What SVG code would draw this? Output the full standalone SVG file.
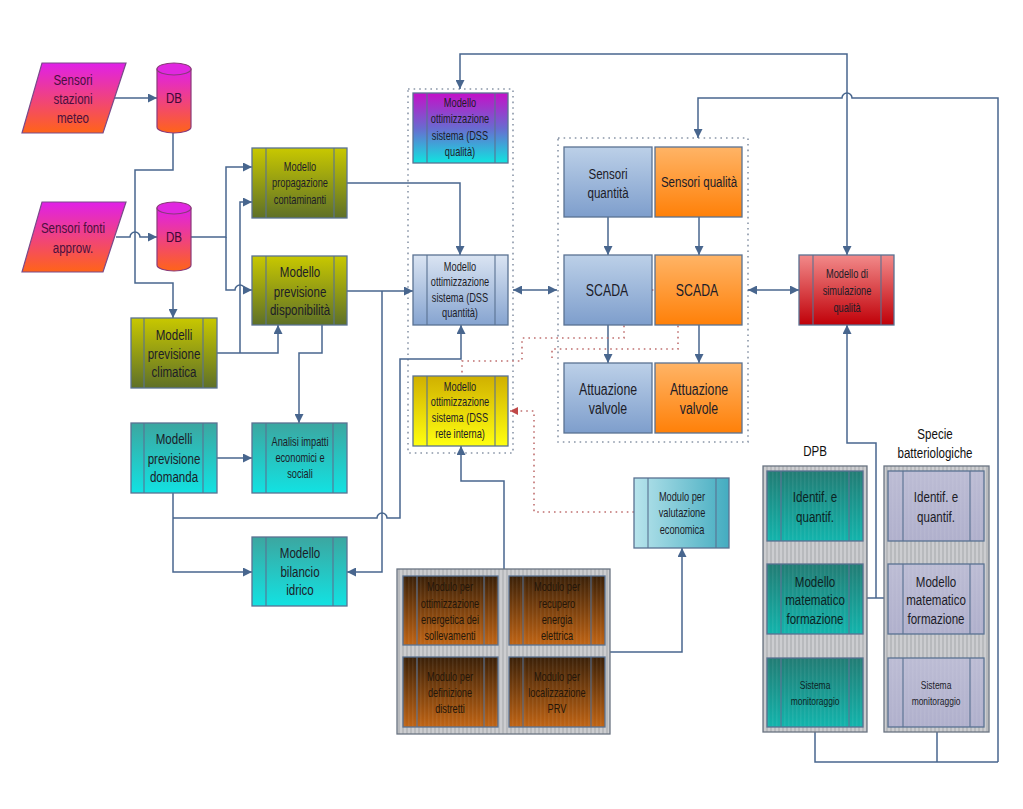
<svg xmlns="http://www.w3.org/2000/svg" width="1023" height="809" viewBox="0 0 1023 809">
<defs>
<style>
text{font-family:"Liberation Sans",Arial,sans-serif;text-anchor:middle;fill:#1c1c28;transform-box:fill-box;transform-origin:center;transform:scaleX(0.77)}
.f15{font-size:15px}.f16{font-size:16px}.f12{font-size:12px}.f11{font-size:11px}
.bx{stroke:#5a7292;stroke-width:1.3}
.il{stroke:#5a7292;stroke-width:1.1;fill:none}
.st{fill:url(#vs);stroke:none}
.c{fill:none;stroke:#48668e;stroke-width:1.5}
.ca{fill:none;stroke:#48668e;stroke-width:1.5;marker-end:url(#a)}
.cb{fill:none;stroke:#48668e;stroke-width:1.5;marker-start:url(#a);marker-end:url(#a)}
.dc{fill:none;stroke:#8a96a8;stroke-width:1.6;stroke-dasharray:1.6 4}
.dr{fill:none;stroke:#c07070;stroke-width:1.6;stroke-dasharray:1.6 4}
.dra{fill:none;stroke:#c07070;stroke-width:1.6;stroke-dasharray:1.6 4;marker-end:url(#r)}
.grp{fill:url(#stripe);stroke:#6a7482;stroke-width:1.3}
</style>
<marker id="a" viewBox="0 0 10 10" refX="10" refY="5" markerWidth="9" markerHeight="9" markerUnits="userSpaceOnUse" orient="auto-start-reverse"><path d="M0,0L10,5L0,10z" fill="#48668e"/></marker>
<marker id="r" viewBox="0 0 10 10" refX="10" refY="5" markerWidth="8" markerHeight="8" markerUnits="userSpaceOnUse" orient="auto-start-reverse"><path d="M0,0L10,5L0,10z" fill="#c04848"/></marker>
<linearGradient id="gMag" x1="0" y1="0" x2="0" y2="1"><stop offset="0" stop-color="#e020e8"/><stop offset="1" stop-color="#ff6418"/></linearGradient>
<linearGradient id="gOl" x1="0" y1="0" x2="0" y2="1"><stop offset="0" stop-color="#c8c800"/><stop offset="1" stop-color="#5e7028"/></linearGradient>
<linearGradient id="gTe" x1="0" y1="0" x2="0" y2="1"><stop offset="0" stop-color="#3ca6a0"/><stop offset="1" stop-color="#12e2e2"/></linearGradient>
<linearGradient id="gQl" x1="0" y1="0" x2="0" y2="1"><stop offset="0" stop-color="#c410c8"/><stop offset="0.5" stop-color="#6a6ad0"/><stop offset="1" stop-color="#10e4e0"/></linearGradient>
<linearGradient id="gBl" x1="0" y1="0" x2="0" y2="1"><stop offset="0" stop-color="#dae4f2"/><stop offset="1" stop-color="#86a4d0"/></linearGradient>
<linearGradient id="gBl2" x1="0" y1="0" x2="0" y2="1"><stop offset="0" stop-color="#bcd0e8"/><stop offset="1" stop-color="#7e9ecc"/></linearGradient>
<linearGradient id="gYe" x1="0" y1="0" x2="0" y2="1"><stop offset="0" stop-color="#d0b000"/><stop offset="1" stop-color="#ffff10"/></linearGradient>
<linearGradient id="gOr" x1="0" y1="0" x2="0" y2="1"><stop offset="0" stop-color="#ffb466"/><stop offset="1" stop-color="#ff8008"/></linearGradient>
<linearGradient id="gRd" x1="0" y1="0" x2="0" y2="1"><stop offset="0" stop-color="#f28a8a"/><stop offset="1" stop-color="#c00008"/></linearGradient>
<linearGradient id="gVe" x1="0" y1="0" x2="1" y2="0"><stop offset="0" stop-color="#b8e4ec"/><stop offset="1" stop-color="#44acc0"/></linearGradient>
<linearGradient id="gBr" x1="0" y1="0" x2="0" y2="1"><stop offset="0" stop-color="#3a2008"/><stop offset="1" stop-color="#c06414"/></linearGradient>
<linearGradient id="gDp" x1="0" y1="0" x2="0" y2="1"><stop offset="0" stop-color="#227c74"/><stop offset="1" stop-color="#12b4ac"/></linearGradient>
<linearGradient id="gSp" x1="0" y1="0" x2="0" y2="1"><stop offset="0" stop-color="#bcbcd4"/><stop offset="1" stop-color="#b0b0cc"/></linearGradient>
<pattern id="stripe" width="4" height="4" patternUnits="userSpaceOnUse"><rect width="4" height="4" fill="#b8babd"/><rect width="2" height="4" fill="#cccdd0"/></pattern>
<pattern id="vs" width="4" height="4" patternUnits="userSpaceOnUse"><rect width="1.5" height="4" fill="#ffffff" fill-opacity="0.06"/></pattern>
</defs>
<rect width="1023" height="809" fill="#ffffff"/>

<g id="containers">
<rect class="dc" x="408" y="89" width="105" height="364"/>
<rect class="dc" x="558" y="138" width="190" height="304"/>
</g>

<g id="connectors">
<path class="ca" d="M113,98H157"/>
<path class="ca" d="M116,237H130a5,5 0 0 1 10,0H157"/>
<path class="ca" d="M173,133V170H135V283H173V318"/>
<path class="ca" d="M191,237H226V167H252"/>
<path class="ca" d="M226,237V290H235a5,5 0 0 1 10,0H252"/>
<path class="ca" d="M217,353H278V325"/>
<path class="ca" d="M240,353V202H252"/>
<path class="ca" d="M322,325V353H299V423"/>
<path class="ca" d="M347,291H413"/>
<path class="ca" d="M382,291V572H347"/>
<path class="ca" d="M173,493V572H252"/>
<path class="ca" d="M173,518H377a5,5 0 0 1 10,0H400V359H461V325"/>
<path class="ca" d="M217,458H252"/>
<path class="ca" d="M347,183H460V255"/>
<path class="cb" d="M847,255V54H460V89"/>
<path class="ca" d="M998,762V98H852a5,5 0 0 0 -10,0H698V138"/>
<path class="ca" d="M876,598V443H847V325"/>
<path class="c" d="M863,598H888"/>
<path class="c" d="M815,727V762H998M937,727V762"/>
<path class="cb" d="M513,290H557"/>
<path class="cb" d="M748,290H799"/>
<path class="ca" d="M608,217V255"/>
<path class="ca" d="M699,217V255"/>
<path class="ca" d="M608,325V363"/>
<path class="ca" d="M699,325V363"/>
<path class="ca" d="M504,569V481H461V446"/>
<path class="ca" d="M610,652H682V548"/>
<path class="dra" d="M628,290H654"/>
<path class="dra" d="M680,290H656"/>
<path class="dr" d="M624,292V338H522V361H462V376"/>
<path class="dr" d="M678,292V349H552V361"/>
<path class="dra" d="M634,512H534V411H510"/>
</g>

<g id="n-sensori-meteo"><path d="M42,63H126L103,133H22Z" fill="url(#gMag)" stroke="#7a4a8a" stroke-width="1.2"/>
<text class="f15" style="fill:#4a1040"><tspan x="73" y="85">Sensori</tspan><tspan x="73" y="104">stazioni</tspan><tspan x="73" y="123">meteo</tspan></text></g>
<g id="n-sensori-fonti"><path d="M42,202H126L103,272H22Z" fill="url(#gMag)" stroke="#7a4a8a" stroke-width="1.2"/>
<text class="f15" style="fill:#4a1040"><tspan x="73" y="233">Sensori fonti</tspan><tspan x="73" y="253">approw.</tspan></text></g>
<g id="n-db1"><path d="M157,69V127A17,6 0 0 0 191,127V69Z" fill="url(#gMag)" stroke="#8a3a7a" stroke-width="1.2"/><ellipse cx="174" cy="69" rx="17" ry="6" fill="#e028e0" stroke="#8a3a7a" stroke-width="1.2"/>
<text class="f15" x="174" y="103" style="fill:#400838">DB</text></g>
<g id="n-db2"><path d="M157,208V265A17,6 0 0 0 191,265V208Z" fill="url(#gMag)" stroke="#8a3a7a" stroke-width="1.2"/><ellipse cx="174" cy="208" rx="17" ry="6" fill="#e028e0" stroke="#8a3a7a" stroke-width="1.2"/>
<text class="f15" x="174" y="242" style="fill:#400838">DB</text></g>

<g id="n-propagazione"><rect class="bx" x="252" y="148" width="95" height="70" fill="url(#gOl)"/><path class="il" d="M266,148V218M334,148V218"/>
<text class="f12"><tspan x="300" y="171">Modello</tspan><tspan x="300" y="187">propagazione</tspan><tspan x="300" y="204">contaminanti</tspan></text></g>
<g id="n-disponibilita"><rect class="bx" x="252" y="256" width="95" height="69" fill="url(#gOl)"/><path class="il" d="M266,256V325M334,256V325"/>
<text class="f15"><tspan x="300" y="277">Modello</tspan><tspan x="300" y="297">previsione</tspan><tspan x="300" y="315">disponibilità</tspan></text></g>
<g id="n-climatica"><rect class="bx" x="131" y="318" width="86" height="70" fill="url(#gOl)"/><path class="il" d="M144,318V388M203,318V388"/>
<text class="f15"><tspan x="174" y="340">Modelli</tspan><tspan x="174" y="359">previsione</tspan><tspan x="174" y="377">climatica</tspan></text></g>
<g id="n-domanda"><rect class="bx" x="131" y="423" width="86" height="70" fill="url(#gTe)"/><path class="il" d="M144,423V493M203,423V493"/>
<text class="f15"><tspan x="174" y="444">Modelli</tspan><tspan x="174" y="464">previsione</tspan><tspan x="174" y="482">domanda</tspan></text></g>
<g id="n-analisi"><rect class="bx" x="252" y="423" width="95" height="70" fill="url(#gTe)"/><path class="il" d="M266,423V493M333,423V493"/>
<text class="f12"><tspan x="300" y="446">Analisi impatti</tspan><tspan x="300" y="462">economici e</tspan><tspan x="300" y="478">sociali</tspan></text></g>
<g id="n-bilancio"><rect class="bx" x="252" y="537" width="95" height="69" fill="url(#gTe)"/><path class="il" d="M266,537V606M333,537V606"/>
<text class="f15"><tspan x="300" y="558">Modello</tspan><tspan x="300" y="577">bilancio</tspan><tspan x="300" y="595">idrico</tspan></text></g>

<g id="n-dss-qualita"><rect class="bx" x="413" y="93" width="95" height="70" fill="url(#gQl)"/><path class="il" d="M427,93V163M495,93V163"/>
<text class="f12"><tspan x="460" y="107">Modello</tspan><tspan x="460" y="123">ottimizzazione</tspan><tspan x="460" y="140">sistema (DSS</tspan><tspan x="460" y="156">qualità)</tspan></text></g>
<g id="n-dss-quantita"><rect class="bx" x="413" y="255" width="95" height="70" fill="url(#gBl)"/><path class="il" d="M427,255V325M495,255V325"/>
<text class="f12"><tspan x="460" y="271">Modello</tspan><tspan x="460" y="286">ottimizzazione</tspan><tspan x="460" y="302">sistema (DSS</tspan><tspan x="460" y="317">quantità)</tspan></text></g>
<g id="n-dss-rete"><rect class="bx" x="413" y="376" width="95" height="70" fill="url(#gYe)"/><path class="il" d="M427,376V446M495,376V446"/>
<text class="f12"><tspan x="460" y="391">Modello</tspan><tspan x="460" y="406">ottimizzazione</tspan><tspan x="460" y="422">sistema (DSS</tspan><tspan x="460" y="438">rete interna)</tspan></text></g>

<g id="n-sens-quant"><rect class="bx" x="564" y="147" width="88" height="70" fill="url(#gBl2)"/>
<text class="f15"><tspan x="608" y="179">Sensori</tspan><tspan x="608" y="198">quantità</tspan></text></g>
<g id="n-sens-qual"><rect class="bx" x="655" y="147" width="87" height="70" fill="url(#gOr)"/>
<text class="f15" x="699" y="187">Sensori qualità</text></g>
<g id="n-scada-b"><rect class="bx" x="564" y="255" width="88" height="70" fill="url(#gBl2)"/>
<text class="f16" x="607" y="296">SCADA</text></g>
<g id="n-scada-o"><rect class="bx" x="655" y="255" width="87" height="70" fill="url(#gOr)"/>
<text class="f16" x="697" y="296">SCADA</text></g>
<g id="n-att-b"><rect class="bx" x="564" y="363" width="88" height="70" fill="url(#gBl2)"/>
<text class="f16"><tspan x="608" y="395">Attuazione</tspan><tspan x="608" y="414">valvole</tspan></text></g>
<g id="n-att-o"><rect class="bx" x="655" y="363" width="87" height="70" fill="url(#gOr)"/>
<text class="f16"><tspan x="699" y="395">Attuazione</tspan><tspan x="699" y="414">valvole</tspan></text></g>

<g id="n-simulazione"><rect class="bx" x="799" y="255" width="95" height="70" fill="url(#gRd)"/><path class="il" d="M813,255V325M881,255V325"/>
<text class="f12"><tspan x="847" y="278">Modello di</tspan><tspan x="847" y="295">simulazione</tspan><tspan x="847" y="312">qualità</tspan></text></g>
<g id="n-valutazione"><rect class="bx" x="634" y="478" width="95" height="70" fill="url(#gVe)"/><path class="il" d="M648,478V548M716,478V548"/>
<text class="f12"><tspan x="682" y="501">Modulo per</tspan><tspan x="682" y="517">valutazione</tspan><tspan x="682" y="534">economica</tspan></text></g>

<g id="g-moduli"><rect class="grp" x="397" y="569" width="213" height="165"/>
<g id="n-mod-soll"><rect class="bx" x="403" y="576" width="95" height="69" fill="url(#gBr)"/><rect class="st" x="404" y="577" width="93" height="67"/><path class="il" d="M417,576V645M484,576V645"/>
<text class="f12" style="fill:#24160a"><tspan x="450" y="591">Modulo per</tspan><tspan x="450" y="608">ottimizzazione</tspan><tspan x="450" y="624">energetica dei</tspan><tspan x="450" y="640">sollevamenti</tspan></text></g>
<g id="n-mod-recupero"><rect class="bx" x="509" y="576" width="96" height="69" fill="url(#gBr)"/><rect class="st" x="510" y="577" width="94" height="67"/><path class="il" d="M523,576V645M591,576V645"/>
<text class="f12" style="fill:#24160a"><tspan x="557" y="591">Modulo per</tspan><tspan x="557" y="608">recupero</tspan><tspan x="557" y="624">energia</tspan><tspan x="557" y="640">elettrica</tspan></text></g>
<g id="n-mod-distretti"><rect class="bx" x="403" y="657" width="95" height="70" fill="url(#gBr)"/><rect class="st" x="404" y="658" width="93" height="68"/><path class="il" d="M417,657V727M484,657V727"/>
<text class="f12" style="fill:#24160a"><tspan x="450" y="681">Modulo per</tspan><tspan x="450" y="697">definizione</tspan><tspan x="450" y="713">distretti</tspan></text></g>
<g id="n-mod-prv"><rect class="bx" x="509" y="657" width="96" height="70" fill="url(#gBr)"/><rect class="st" x="510" y="658" width="94" height="68"/><path class="il" d="M523,657V727M591,657V727"/>
<text class="f12" style="fill:#24160a"><tspan x="557" y="681">Modulo per</tspan><tspan x="557" y="697">localizzazione</tspan><tspan x="557" y="713">PRV</tspan></text></g>
</g>

<g id="g-dpb"><text class="f15" x="815" y="456" style="fill:#101010">DPB</text>
<rect class="grp" x="763" y="466" width="104" height="266"/>
<g id="n-dpb-id"><rect class="bx" x="767" y="471" width="96" height="70" fill="url(#gDp)"/><rect class="st" x="768" y="472" width="94" height="68"/><path class="il" d="M781,471V541M849,471V541"/>
<text class="f15" style="fill:#0c2424"><tspan x="815" y="502">Identif. e</tspan><tspan x="815" y="522">quantif.</tspan></text></g>
<g id="n-dpb-mod"><rect class="bx" x="767" y="564" width="96" height="70" fill="url(#gDp)"/><rect class="st" x="768" y="565" width="94" height="68"/><path class="il" d="M781,564V634M849,564V634"/>
<text class="f15" style="fill:#0c2424"><tspan x="815" y="587">Modello</tspan><tspan x="815" y="605">matematico</tspan><tspan x="815" y="624">formazione</tspan></text></g>
<g id="n-dpb-sis"><rect class="bx" x="767" y="658" width="96" height="69" fill="url(#gDp)"/><rect class="st" x="768" y="659" width="94" height="67"/><path class="il" d="M781,658V727M849,658V727"/>
<text class="f11" style="fill:#0c2424"><tspan x="815" y="689">Sistema</tspan><tspan x="815" y="705">monitoraggio</tspan></text></g>
</g>

<g id="g-specie"><text class="f15" style="fill:#101010"><tspan x="935" y="439">Specie</tspan><tspan x="935" y="458">batteriologiche</tspan></text>
<rect class="grp" x="884" y="466" width="105" height="266"/>
<g id="n-sp-id"><rect class="bx" x="888" y="471" width="96" height="70" fill="url(#gSp)"/><rect class="st" x="889" y="472" width="94" height="68"/><path class="il" d="M903,471V541M970,471V541"/>
<text class="f15"><tspan x="936" y="502">Identif. e</tspan><tspan x="936" y="522">quantif.</tspan></text></g>
<g id="n-sp-mod"><rect class="bx" x="888" y="564" width="96" height="70" fill="url(#gSp)"/><rect class="st" x="889" y="565" width="94" height="68"/><path class="il" d="M903,564V634M970,564V634"/>
<text class="f15"><tspan x="936" y="587">Modello</tspan><tspan x="936" y="605">matematico</tspan><tspan x="936" y="624">formazione</tspan></text></g>
<g id="n-sp-sis"><rect class="bx" x="888" y="658" width="96" height="69" fill="url(#gSp)"/><rect class="st" x="889" y="659" width="94" height="67"/><path class="il" d="M903,658V727M970,658V727"/>
<text class="f11"><tspan x="936" y="689">Sistema</tspan><tspan x="936" y="705">monitoraggio</tspan></text></g>
</g>
</svg>
